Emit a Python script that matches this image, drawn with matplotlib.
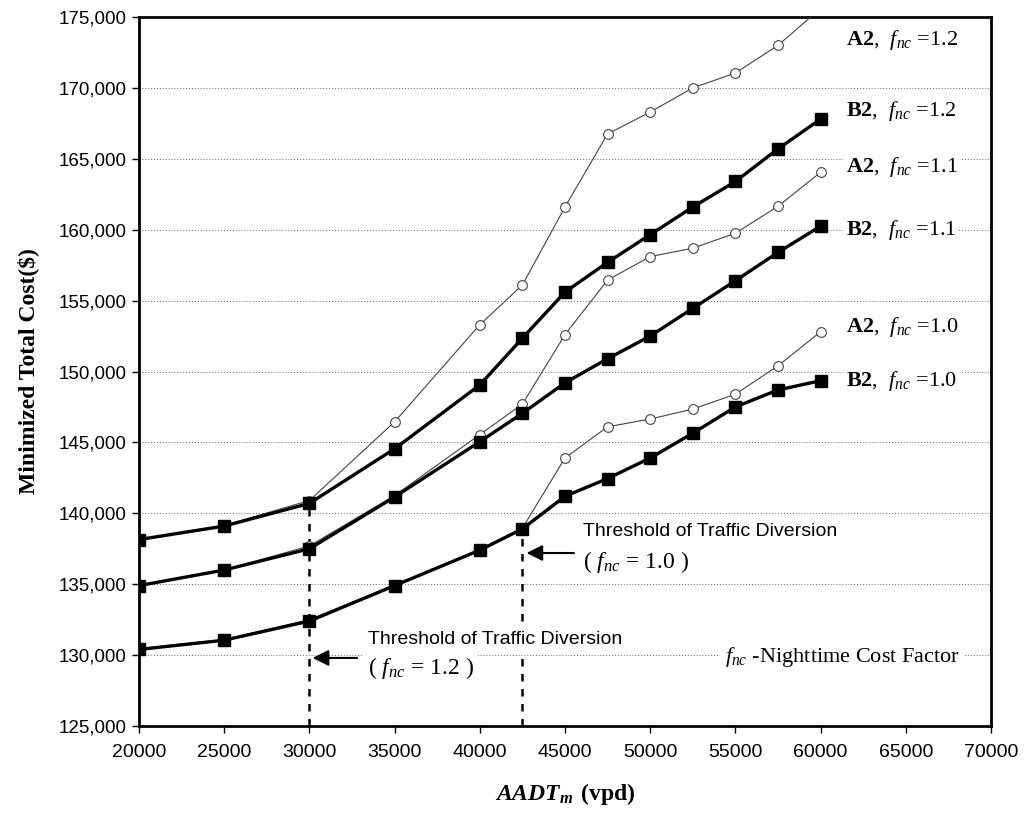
import matplotlib
matplotlib.use("Agg")
import matplotlib.pyplot as plt
from matplotlib.ticker import StrMethodFormatter, MultipleLocator

plt.rcParams["mathtext.fontset"] = "custom"
plt.rcParams["mathtext.rm"] = "Liberation Serif"
plt.rcParams["mathtext.it"] = "Liberation Serif:italic"
plt.rcParams["mathtext.bf"] = "Liberation Serif:bold"
plt.rcParams["mathtext.bfit"] = "Liberation Serif:bold:italic"

# AADT_m (vpd)
aadt = [20000, 25000, 30000, 35000, 40000, 42500, 45000, 47500,
        50000, 52500, 55000, 57500, 60000]

# minimized total cost ($)
b2_12 = [138150, 139100, 140700, 144550, 149050, 152350, 155600, 157700,
         159650, 161600, 163400, 165700, 167800]
a2_12 = [138150, 139150, 140900, 146450, 153300, 156100, 161600, 166750,
         168300, 170000, 171050, 173000, 175600]
b2_11 = [134900, 136000, 137500, 141150, 145050, 147050, 149200, 150900,
         152500, 154450, 156400, 158400, 160250]
a2_11 = [134900, 136000, 137700, 141250, 145550, 147700, 152600, 156450,
         158100, 158700, 159750, 161650, 164050]
b2_10 = [130400, 131050, 132400, 134900, 137400, 138900, 141200, 142450,
         143900, 145650, 147500, 148700, 149350]
a2_10 = [130450, 131100, 132500, 134950, 137450, 138950, 143900, 146100,
         146650, 147350, 148400, 150400, 152800]

series_a = [a2_12, a2_11, a2_10]
series_b = [b2_12, b2_11, b2_10]
labels_a = [r"$\mathbf{A2}$,  $f_{nc}$ =1.2", r"$\mathbf{A2}$,  $f_{nc}$ =1.1", r"$\mathbf{A2}$,  $f_{nc}$ =1.0"]
labels_b = [r"$\mathbf{B2}$,  $f_{nc}$ =1.2", r"$\mathbf{B2}$,  $f_{nc}$ =1.1", r"$\mathbf{B2}$,  $f_{nc}$ =1.0"]
label_y_a = [173400, 164400, 153150]
label_y_b = [168400, 160000, 149300]

fig = plt.figure(figsize=(10.25, 8.14), dpi=100)
ax = fig.add_axes([0.1356, 0.1081, 0.8312, 0.871])
ax.set_xlim(20000, 70000)
ax.set_ylim(125000, 175000)

ax.grid(axis="y", linestyle=(0, (1, 2)), color="#666666", linewidth=0.7, zorder=0)
ax.set_axisbelow(True)

for ys in series_a:
    ax.plot(aadt, ys, color="#444444", linewidth=0.8, marker="o", markersize=7,
            markerfacecolor="white", markeredgecolor="#444444", markeredgewidth=0.8, zorder=3)
for ys in series_b:
    ax.plot(aadt, ys, color="black", linewidth=2.4, marker="s", markersize=8,
            markerfacecolor="black", markeredgecolor="black", zorder=4)

# diversion thresholds
ax.vlines(aadt[2], 125000, b2_12[2], colors="black", linestyles=(0, (3, 3)), linewidth=1.8, zorder=2)
ax.vlines(aadt[5], 125000, b2_10[5], colors="black", linestyles=(0, (3, 3)), linewidth=1.8, zorder=2)

box = dict(facecolor="white", edgecolor="none", pad=2)
for lab, y in zip(labels_a, label_y_a):
    ax.text(61500, y, lab, fontsize=16, family="Liberation Serif", va="center", ha="left", bbox=box)
for lab, y in zip(labels_b, label_y_b):
    ax.text(61500, y, lab, fontsize=16, family="Liberation Serif", va="center", ha="left", bbox=box)

ax.annotate("", xy=(30030, 129800), xytext=(32960, 129800),
            arrowprops=dict(arrowstyle="-|>", color="black", lw=1.5, mutation_scale=24))
ax.annotate("", xy=(42580, 137200), xytext=(45690, 137200),
            arrowprops=dict(arrowstyle="-|>", color="black", lw=1.5, mutation_scale=24))

ax.text(33430, 131070, "Threshold of Traffic Diversion", fontsize=14, family="Liberation Sans",
        va="center", ha="left", bbox=dict(facecolor="white", edgecolor="none", pad=4))
ax.text(33430, 129090, r"( $f_{nc}$ = 1.2 )", fontsize=17, family="Liberation Serif",
        va="center", ha="left", bbox=dict(facecolor="white", edgecolor="none", pad=3))
ax.text(46040, 138690, "Threshold of Traffic Diversion", fontsize=14, family="Liberation Sans",
        va="center", ha="left", bbox=dict(facecolor="white", edgecolor="none", pad=4))
ax.text(46040, 136570, r"( $f_{nc}$ = 1.0 )", fontsize=17, family="Liberation Serif",
        va="center", ha="left", bbox=dict(facecolor="white", edgecolor="none", pad=3))
ax.text(54370, 129870, r"$f_{nc}$ -Nighttime Cost Factor", fontsize=16, family="Liberation Serif",
        va="center", ha="left", bbox=dict(facecolor="white", edgecolor="none", pad=4))

ax.xaxis.set_major_locator(MultipleLocator(5000))
ax.yaxis.set_major_locator(MultipleLocator(5000))
ax.yaxis.set_major_formatter(StrMethodFormatter("{x:,.0f}"))
ax.tick_params(axis="both", direction="out", length=5, width=1, color="black")
ax.tick_params(axis="y", labelsize=13.5, pad=4)
ax.tick_params(axis="x", labelsize=14, pad=8)
for lab in ax.get_xticklabels() + ax.get_yticklabels():
    lab.set_family("Liberation Sans")

for sp in ax.spines.values():
    sp.set_linewidth(2)
    sp.set_color("black")

ax.set_ylabel("Minimized Total Cost($)", fontsize=17, family="Liberation Serif",
              fontweight="bold", labelpad=14)
ax.set_xlabel(r"$\mathbfit{AADT}_{\mathbfit{m}}$ $\mathbf{(vpd)}$", fontsize=17, labelpad=14)

fig.savefig("out.png", dpi=100)
